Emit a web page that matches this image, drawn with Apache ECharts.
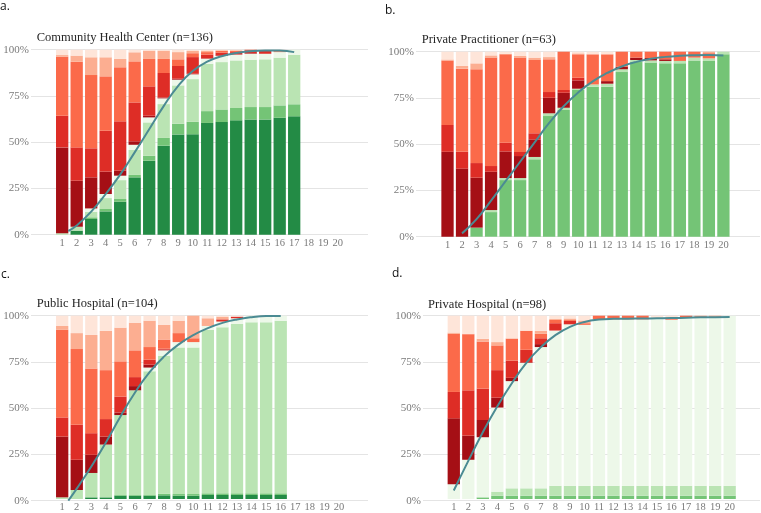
<!DOCTYPE html>
<html><head><meta charset="utf-8">
<script src="https://cdn.jsdelivr.net/npm/echarts@6/dist/echarts.min.js"></script>
<style>html,body{margin:0;padding:0;background:#fff}#c{width:761px;height:513px}</style>
</head><body><div id="c"></div>
<script>
// x tick labels (ranks)
const ranks = ['1','2','3','4','5','6','7','8','9','10','11','12','13','14','15','16','17','18','19','20'];
const yTicks = [0,25,50,75,100];
const segmentNames = ['Green 1','Green 2','Green 3','Green 4','Red 1','Red 2','Red 3','Red 4','Red 5'];
const segmentColors = ['#238b45','#74c476','#bae4b3','#edf8e9','#a50f15','#de2d26','#fb6a4a','#fcae91','#fee5d9'];
const panelTitles = ['Community Health Center (n=136)','Private Practitioner (n=63)','Public Hospital (n=104)','Private Hospital (n=98)'];
const panelLetters = ['a.','b.','c.','d.'];

// Panel a: Community Health Center (bars 1-17)
const a_g1 = [0,2.2,8.5,12.6,17.8,31.0,40.0,48.1,54.2,54.3,60.4,60.9,61.8,62.3,62.3,63.2,64.0];
const a_g2 = [0,0,0.9,1.3,1.5,1.3,2.7,4.2,5.8,6.7,6.4,6.8,6.7,6.7,6.7,6.7,6.5];
const a_g3 = [0.8,2.1,3.0,5.9,10.2,13.5,18.0,18.3,20.7,23.1,25.6,25.6,25.7,25.6,25.8,25.8,26.8];
const a_g4 = [0,0,1.8,2.2,2.4,2.8,2.7,3.1,3.1,2.6,2.7,3.3,3.1,3.2,3.0,3.0,2.7];
const a_r1 = [46.4,24.9,16.8,12.1,2.7,1.9,0.9,0.5,0.5,0.3,0.2,0.3,0.2,0.3,0,0,0];
const a_r2 = [17.1,18.0,15.7,22.1,26.7,21.0,15.9,13.2,6.9,9.0,2.0,1.5,1.2,1.6,1.5,0,0];
const a_r3 = [31.9,46.3,39.6,29.4,29.2,22.2,14.8,7.6,3.6,2.1,1.4,0.9,0.6,0.3,0.2,0.5,0];
const a_r4 = [0.9,3.3,9.6,10.3,4.5,4.9,4.5,4.5,3.9,1.2,0.8,0.4,0.4,0,0,0.4,0];
const a_r5 = [2.9,3.2,4.1,4.1,5.0,1.4,0.5,0.5,1.3,0.7,0.5,0.3,0.3,0,0.5,0.4,0];
const a_lineX = [1.42,2,3,4,5,6,7,8,9,10,11,12,13,14,15,16,17];
const a_lineY = [2,5,12.5,22,32.5,44.5,57,69.5,80.5,88.5,93.5,96.5,98.2,99.2,99.6,99.6,98.7];

// Panel b: Private Practitioner (bars 1-20)
const b_g1 = [0,0,0,0,0,0,0,0,0,0,0,0,0,0,0,0,0,0,0,0];
const b_g2 = [0,0,4.9,13.3,30.6,30.6,41.8,65.2,68.5,79.3,81.1,81.1,89.0,94.4,94.1,93.7,93.7,95.3,95.0,98.6];
const b_g3 = [0,0,0,1.1,1.1,1.1,1.3,1.5,1.2,0.7,1.2,1.6,1.5,1.1,1.2,1.3,1.3,1.5,1.4,1.4];
const b_g4 = [0,0,0,0,0,0,0,0,0,0,0,0,0,0,0,0,0,0,0,0];
const b_r1 = [45.9,36.8,27.0,20.7,14.4,11.9,9.5,8.4,8.1,4.5,0,1.4,1.4,1.3,1.3,0.9,0,0,0,0];
const b_r2 = [14.5,9.1,7.9,3.1,4.7,2.2,3.3,3.1,1.5,1.4,0,0,0,0,0,0,0,0,0,0];
const b_r3 = [34.9,44.9,50.7,58.6,47.8,51.0,39.6,17.7,20.7,12.7,16.3,14.5,8.1,3.2,3.4,4.1,5.0,3.2,2.8,0];
const b_r4 = [0.5,1.5,3.2,1.2,0.3,0.9,1.3,1.2,0,0.5,0,0,0,0,0,0,0,0,0.8,0];
const b_r5 = [4.2,7.7,6.3,2.0,1.1,2.3,3.2,2.9,0,0.9,1.4,1.4,0,0,0,0,0,0,0,0];
const b_lineX = [2,3,4,5,6,7,8,9,10,11,12,13,14,15,16,17,18,19,20];
const b_lineY = [1.8,9.5,19.5,30,40.5,51,61.5,70.5,78,84,88.5,92,94.5,96.2,97.2,97.8,98.1,98.2,98];

// Panel c: Public Hospital (bars 1-16)
const c_g1 = [0,0,0.9,0.9,1.8,1.8,1.8,2.0,1.8,1.8,2.2,2.2,2.2,2.2,2.2,2.2];
const c_g2 = [0,0,0,0,0.4,0.4,0.4,0.9,0.9,0.9,0.9,0.9,0.9,0.9,0.9,0.9];
const c_g3 = [0.9,4.9,13.3,28.8,43.6,57.1,67.5,75.3,80.0,80.0,89.2,90.6,92.4,93.3,93.3,94.2];
const c_g4 = [0,0,0,0,0,0,2.0,2.9,2.9,2.9,2.1,3.1,3.1,3.6,3.1,2.7];
const c_r1 = [33.2,16.5,9.9,4.4,1.4,2.3,1.6,0.4,0,0,0,0,0,0,0,0];
const c_r2 = [10.4,19.1,11.8,9.5,8.7,4.9,2.7,0.5,0,0,0,1.2,0.9,0,0,0];
const c_r3 = [47.8,41.3,35.3,26.7,19.2,14.6,6.9,5.0,4.9,2.1,0,0,0,0,0,0];
const c_r4 = [2.1,8.7,18.3,21.4,18.4,15.1,14.4,8.1,6.8,12.3,4.2,1.5,0,0,0.5,0];
const c_r5 = [5.6,9.5,10.5,8.3,6.5,3.8,2.7,4.9,2.7,0,1.4,0.5,0.5,0,0,0];
const c_lineX = [1.42,2,3,4,5,6,7,8,9,10,11,12,13,14,15,16];
const c_lineY = [0,6.5,18.5,31.5,45.5,58.5,69.5,78,84.5,89.5,93.3,96.1,98,99.2,99.8,99.8];

// Panel d: Private Hospital (bars 1-20)
const d_g1 = [0,0,0,0,0,0,0,0,0,0,0,0,0,0,0,0,0,0,0,0];
const d_g2 = [0,0,0.9,1.8,1.8,1.8,1.8,1.8,1.8,1.8,1.8,1.8,1.8,1.8,1.8,1.8,1.8,1.8,1.8,1.8];
const d_g3 = [0,0,0,2.2,4.0,4.0,4.0,5.4,5.4,5.4,5.4,5.4,5.4,5.4,5.4,5.4,5.4,5.4,5.4,5.4];
const d_g4 = [8.1,21.4,32.8,45.9,58.5,68.4,77.1,84.7,88.1,87.8,90.8,90.8,90.8,90.8,91.0,90.5,91.7,91.7,91.9,92.8];
const d_r1 = [35.9,13.2,9.4,5.4,1.8,0.3,1.6,0,0,0,0,0,0,0,0,0,0,0,0,0];
const d_r2 = [14.4,24.7,17.1,15.0,9.4,6.9,3.2,4.0,1.8,0,0,0,0,0,0,0,0,0,0,0];
const d_r3 = [31.7,30.6,25.7,13.5,11.9,10.3,2.4,1.8,0.5,0.9,2.0,2.0,2.0,2.0,0,0.4,1.1,0.8,0.5,0];
const d_r4 = [0.7,0.3,1.5,1.8,0.3,0.2,1.6,0.5,0.9,1.5,0,0,0,0,0.5,0.9,0,0.3,0.4,0];
const d_r5 = [9.2,9.8,12.6,14.4,12.3,8.1,8.3,1.8,1.5,2.6,0,0,0,0,1.3,1.0,0,0,0,0];
const d_lineX = [1,2,3,4,5,6,7,8,9,10,11,12,13,14,15,16,17,18,19,20];
const d_lineY = [5.5,21.5,37,51,63.5,74.5,83,89.5,94,96.6,97.9,98.3,98.4,98.5,98.6,98.7,98.9,99.1,99.2,99.3];

const panelSegments = [
  [a_g1,a_g2,a_g3,a_g4,a_r1,a_r2,a_r3,a_r4,a_r5],
  [b_g1,b_g2,b_g3,b_g4,b_r1,b_r2,b_r3,b_r4,b_r5],
  [c_g1,c_g2,c_g3,c_g4,c_r1,c_r2,c_r3,c_r4,c_r5],
  [d_g1,d_g2,d_g3,d_g4,d_r1,d_r2,d_r3,d_r4,d_r5]
];
const panelLines = [[a_lineX,a_lineY],[b_lineX,b_lineY],[c_lineX,c_lineY],[d_lineX,d_lineY]];

// layout (pixels) and x-range per panel
const layout = [
  {left:31, width:337, top:49.7, xmin:-1.15, xmax:22.09, titleX:36.7, titleY:39, letX:0, letY:12.5},
  {left:416, width:344, top:51.7, xmin:-1.17, xmax:22.52, titleX:421.7, titleY:41.7, letX:385, letY:16.5},
  {left:31, width:337, top:315.7, xmin:-1.14, xmax:21.99, titleX:36.7, titleY:305, letX:1, letY:280.5},
  {left:423, width:337, top:315.7, xmin:-1.12, xmax:22.09, titleX:428, titleY:306, letX:392, letY:279.5}
];
const serif = '"Liberation Serif","Times New Roman",serif';
const axisGray = '#7a7a7a';
const H = 185;

const grids=[], xAxes=[], yAxes=[], series=[], graphics=[];
layout.forEach((L,i)=>{
  const pxPer = L.width/(L.xmax-L.xmin);
  grids.push({left:L.left, top:L.top, width:L.width, height:H});
  grids.push({left:L.left + (0.5-L.xmin)*pxPer, top:L.top, width:20*pxPer, height:H});
  xAxes.push({gridIndex:2*i, type:'value', min:L.xmin, max:L.xmax, show:false, splitLine:{show:false}});
  xAxes.push({gridIndex:2*i+1, type:'category', data:ranks, boundaryGap:true,
    axisLine:{show:false}, axisTick:{show:false}, splitLine:{show:false},
    axisLabel:{interval:0, color:axisGray, fontFamily:serif, fontSize:10.5, margin:3}});
  yAxes.push({gridIndex:2*i, type:'value', min:0, max:100, interval:25,
    axisLine:{show:false}, axisTick:{show:false},
    splitLine:{lineStyle:{color:'#e4e4e4', width:1}},
    axisLabel:{formatter:'{value}%', color:axisGray, fontFamily:serif, fontSize:11, margin:2}});
  yAxes.push({gridIndex:2*i+1, type:'value', min:0, max:100, show:false, splitLine:{show:false}});
  panelSegments[i].forEach((arr,k)=>{
    series.push({type:'bar', name:segmentNames[k], xAxisIndex:2*i+1, yAxisIndex:2*i+1, stack:'p'+i,
      barWidth:12.3, itemStyle:{color:segmentColors[k]}, data:arr});
  });
  const [lx,ly]=panelLines[i];
  series.push({type:'line', xAxisIndex:2*i, yAxisIndex:2*i, z:10, smooth:0.5,
    showSymbol:false, lineStyle:{color:'#4b8b93', width:2},
    data:lx.map((x,j)=>[x,ly[j]])});
  graphics.push({type:'text', left:L.titleX, top:L.titleY-8, style:{text:panelTitles[i], font:'12.5px '+serif, fill:'#262626'}});
  graphics.push({type:'text', x:L.letX, y:L.letY, style:{text:panelLetters[i], font:'12px "Open Sans","Liberation Sans",sans-serif', fill:'#111', verticalAlign:'bottom', textVerticalAlign:'bottom'}});
});

const chart = echarts.init(document.getElementById('c'), null, {renderer:'canvas'});
chart.setOption({animation:false, backgroundColor:'#fff', grid:grids, xAxis:xAxes, yAxis:yAxes, series:series, graphic:graphics});
</script></body></html>
